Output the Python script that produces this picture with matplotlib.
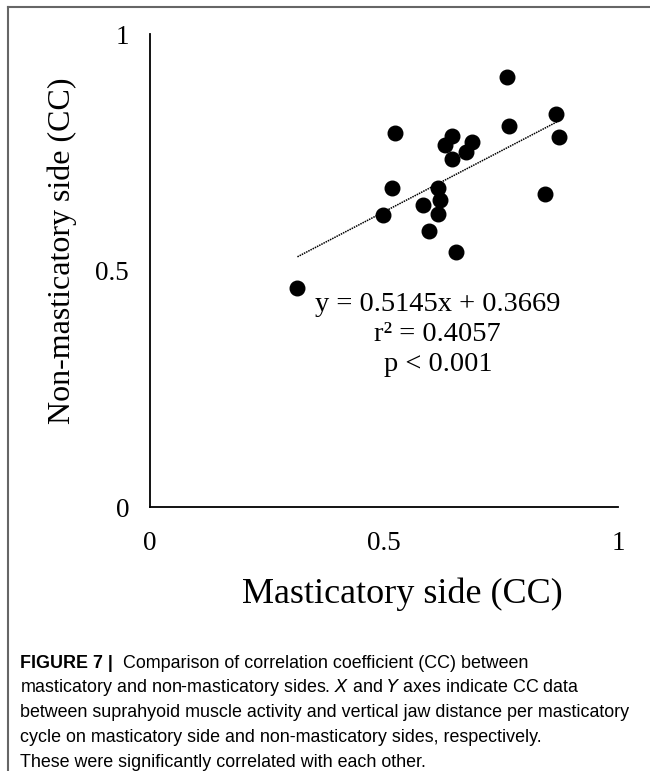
import matplotlib.pyplot as plt
import numpy as np
from matplotlib.lines import Line2D

plt.rcParams["font.family"] = "Liberation Serif"

# data
mast_cc = [0.763, 0.868, 0.874, 0.766, 0.523, 0.646, 0.631, 0.689, 0.676, 0.646,
           0.516, 0.615, 0.620, 0.583, 0.843, 0.498, 0.616, 0.596, 0.653, 0.315]
non_mast_cc = [0.909, 0.831, 0.782, 0.806, 0.790, 0.784, 0.765, 0.772, 0.751, 0.735,
               0.674, 0.674, 0.649, 0.638, 0.662, 0.617, 0.619, 0.584, 0.539, 0.464]
slope, intercept = 0.5145, 0.3669
ticks = [0, 0.5, 1]
tick_labels = ["0", "0.5", "1"]

caption_lines = [
    "Comparison of correlation coefficient (CC) between",
    "masticatory and non-masticatory sides. $\\it{X}$ and $\\it{Y}$ axes indicate CC data",
    "between suprahyoid muscle activity and vertical jaw distance per masticatory",
    "cycle on masticatory side and non-masticatory sides, respectively.",
    "These were significantly correlated with each other.",
]

fig = plt.figure(figsize=(6.5, 7.71), dpi=100)
ax = fig.add_axes([0.2308, 0.3424, 0.72, 0.6135])

ax.scatter(mast_cc, non_mast_cc, s=110, color="black", zorder=3)
xfit = np.array([min(mast_cc), max(mast_cc)])
ax.plot(xfit, slope * xfit + intercept, color="black", linestyle=(0, (1, 0.6)), lw=1.1)

ax.set_xlim(0, 1)
ax.set_ylim(0, 1)
ax.set_xticks(ticks)
ax.set_xticklabels(tick_labels)
ax.set_yticks(ticks)
ax.set_yticklabels(tick_labels)
ax.tick_params(length=0, labelsize=19.5)
ax.tick_params(axis="x", pad=17)
ax.tick_params(axis="y", pad=15)
for s in ["top", "right"]:
    ax.spines[s].set_visible(False)
for s in ["left", "bottom"]:
    ax.spines[s].set_linewidth(1.3)

ax.text(0.615, 0.365, "y = 0.5145x + 0.3669\nr\u00b2 = 0.4057\np < 0.001",
        ha="center", va="center", fontsize=20.5, linespacing=1.25)

fig.text(62 / 650, 1 - 251 / 771, "Non-masticatory side (CC)", rotation=90,
         ha="center", va="center", fontsize=23)
fig.text(402 / 650, 1 - 594 / 771, "Masticatory side (CC)", ha="center", va="center", fontsize=26)

# caption
cap_font = dict(family="Liberation Sans", fontsize=12.9, va="center")
fig.text(20 / 650, 1 - 663 / 771, "FIGURE 7 |", weight="bold", **cap_font)
fig.text(123 / 650, 1 - 663 / 771, caption_lines[0], **cap_font)
for i, line in enumerate(caption_lines[1:]):
    fig.text(20 / 650, 1 - (688 + 24.7 * i) / 771, line, **cap_font)

# frame lines at the left and top edge
fig.add_artist(Line2D([8 / 650, 8 / 650], [0, 1 - 7 / 771], color="#666666", lw=1.5))
fig.add_artist(Line2D([8 / 650, 1], [1 - 7 / 771, 1 - 7 / 771], color="#666666", lw=1.5))

fig.savefig("out.png", dpi=100)
